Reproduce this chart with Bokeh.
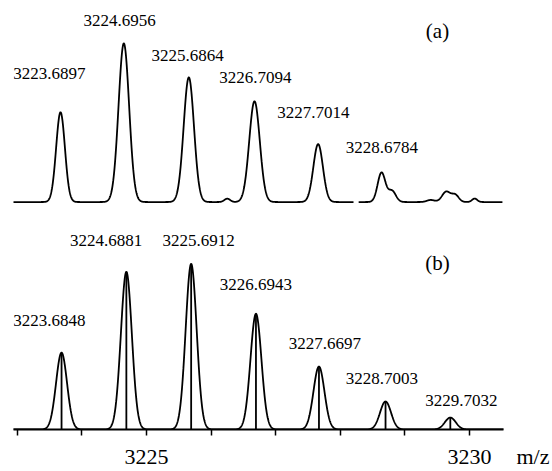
import numpy as np
from bokeh.plotting import figure
from bokeh.models import Range1d, FixedTicker, ColumnDataSource, LinearAxis
from bokeh.embed import file_html
from bokeh.resources import INLINE
from bokeh.core.properties import value

# ---------------- data ----------------
# Panel (a): measured spectrum, labelled isotope peaks
a_label_mz = [3223.6897, 3224.6956, 3225.6864, 3226.7094, 3227.7014, 3228.6784]
# profile components (apex position, relative intensity %, gaussian sigma)
a_peak_mz = [3223.669, 3224.649, 3225.655, 3226.672, 3227.657, 3228.638,
             3226.25, 3228.80, 3229.40, 3229.64, 3229.78, 3230.08]
a_peak_int = [56.6, 100.0, 78.6, 63.5, 36.5, 18.5,
              2.1, 7.0, 1.3, 6.5, 4.4, 2.2]
a_peak_sigma = [0.068, 0.082, 0.080, 0.082, 0.074, 0.060,
                0.045, 0.060, 0.060, 0.065, 0.055, 0.040]

# Panel (b): calculated isotope pattern (stick m/z and relative intensity %)
b_mz = [3223.6848, 3224.6881, 3225.6912, 3226.6943, 3227.6697, 3228.7003, 3229.7032]
b_int = [46.4, 95.2, 100.0, 69.9, 38.0, 16.9, 7.2]
b_sigma = 0.085

x_ticks = [3223, 3224, 3225, 3226, 3227, 3228, 3229, 3230]
x_tick_labels = {3225: "3225", 3230: "3230"}
x_unit_label = "m/z"

# ---------------- layout constants ----------------
A_BASE, A_SCALE = 228.0, 1.59     # panel (a) baseline and px per %
B_BASE, B_SCALE = 0.0, 1.66       # panel (b) baseline and px per %
A_GAP = (3228.205, 3228.282)      # break in the measured trace
AXIS_END = 3230.526               # right end of the drawn axis line
UNIT_POS = 3230.983               # where the "m/z" text sits

a_lab_x = [3223.498, 3224.582, 3225.635, 3226.687, 3227.585, 3228.645]
a_lab_y = [356.5, 409.5, 374.5, 352.5, 317.5, 283.0]
b_lab_x = [3223.498, 3224.373, 3225.805, 3226.695, 3227.763, 3228.645, 3229.876]
b_lab_y = [109.0, 189.5, 189.5, 145.0, 86.0, 51.5, 29.5]

FONT = "Liberation Serif"

# ---------------- profiles ----------------
xa = np.linspace(3222.93, 3230.51, 2000)
ya = np.zeros_like(xa)
for c, h, s in zip(a_peak_mz, a_peak_int, a_peak_sigma):
    ya += h * np.exp(-0.5 * ((xa - c) / s) ** 2)
ya = A_BASE + A_SCALE * ya
ya[(xa > A_GAP[0]) & (xa < A_GAP[1])] = np.nan

xb = np.linspace(3222.93, AXIS_END, 2000)
yb = np.zeros_like(xb)
for c, h in zip(b_mz, b_int):
    yb += h * np.exp(-0.5 * ((xb - c) / b_sigma) ** 2)
yb = B_BASE + B_SCALE * yb

p = figure(width=552, height=471,
           x_range=Range1d(3222.941, 3231.285), y_range=Range1d(0, 430),
           output_backend="svg", toolbar_location=None,
           y_axis_location=None,
           min_border_left=13, min_border_right=0,
           min_border_top=0, min_border_bottom=41)
p.grid.visible = False
p.outline_line_color = None
p.background_fill_color = "white"

p.line(xa, ya, line_color="black", line_width=1.8)
p.line(xb, yb, line_color="black", line_width=1.8)
p.segment(x0=b_mz, y0=[B_BASE] * len(b_mz), x1=b_mz,
          y1=[B_BASE + B_SCALE * v for v in b_int],
          line_color="black", line_width=1.8)

src_a = ColumnDataSource(dict(x=a_lab_x, y=a_lab_y, t=[f"{v:.4f}" for v in a_label_mz]))
src_b = ColumnDataSource(dict(x=b_lab_x, y=b_lab_y, t=[f"{v:.4f}" for v in b_mz]))
for src in (src_a, src_b):
    p.text(x="x", y="y", text="t", source=src, text_font=value(FONT),
           text_font_size="17px", text_align="center", text_baseline="middle",
           text_color="black")

p.text(x=[3229.505, 3229.505], y=[399, 167], text=["(a)", "(b)"],
       text_font=value(FONT), text_font_size="21px",
       text_align="center", text_baseline="middle", text_color="black")

# main axis: line and tick marks only
ax = p.xaxis[0]
ax.ticker = FixedTicker(ticks=x_ticks, minor_ticks=[])
ax.bounds = (3222.941, AXIS_END)
ax.axis_line_width = 2
ax.axis_line_color = "black"
ax.major_tick_line_width = 1.5
ax.major_tick_line_color = "black"
ax.major_tick_out = 6
ax.major_tick_in = 0
ax.minor_tick_line_color = None
ax.major_label_text_font_size = "0px"
ax.major_label_standoff = 0
ax.major_label_overrides = {t: "" for t in x_ticks}

# label axis: tick numbers and the unit, no line or marks
lab_ticks = list(x_tick_labels.keys()) + [UNIT_POS]
ax2 = LinearAxis(ticker=FixedTicker(ticks=lab_ticks, minor_ticks=[]))
ax2.major_label_overrides = {**{k: v for k, v in x_tick_labels.items()}, UNIT_POS: x_unit_label}
ax2.axis_line_color = None
ax2.major_tick_line_color = None
ax2.minor_tick_line_color = None
ax2.major_tick_out = 0
ax2.major_tick_in = 0
ax2.major_label_standoff = 8
ax2.major_label_text_font = FONT
ax2.major_label_text_font_size = "22px"
ax2.major_label_text_color = "black"
p.add_layout(ax2, "below")

open("out.html", "w").write(file_html(p, INLINE))
